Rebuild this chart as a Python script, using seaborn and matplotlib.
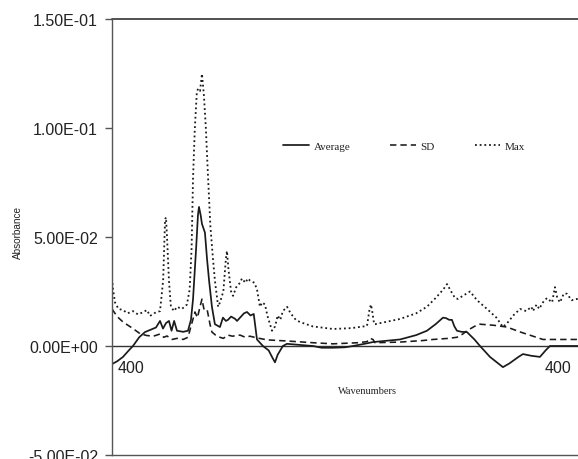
import numpy as np
import pandas as pd
import matplotlib
matplotlib.use("Agg")
import matplotlib.pyplot as plt
import seaborn as sns

# ---- data ----
avg_wn = [4000, 3960, 3915, 3870, 3838, 3790, 3745, 3700, 3660, 3629, 3606, 3583, 3560, 3540,
          3520, 3498, 3450, 3413, 3390, 3374, 3350, 3336, 3328, 3315, 3305, 3282, 3266, 3250,
          3228, 3205, 3166, 3143, 3120, 3104, 3080, 3050, 3034, 3011, 2980, 2957, 2930, 2905,
          2880, 2834, 2790, 2764, 2741, 2720, 2680, 2648, 2550, 2447, 2380, 2293, 2200, 2138,
          2050, 1984, 1775, 1650, 1567, 1500, 1443, 1420, 1395, 1374, 1355, 1335, 1300, 1258,
          1200, 1157, 1080, 980, 930, 860, 825, 760, 694, 650, 617, 400]
avg_val = [-0.0083, -0.007, -0.005, -0.002, 0.0, 0.004, 0.0064, 0.0075, 0.0085, 0.0115, 0.008,
           0.0105, 0.0115, 0.007, 0.0115, 0.007, 0.0065, 0.007, 0.012, 0.0215, 0.045, 0.060,
           0.0638, 0.060, 0.056, 0.052, 0.040, 0.030, 0.018, 0.010, 0.0087, 0.013, 0.0115,
           0.012, 0.0135, 0.0125, 0.0115, 0.013, 0.015, 0.0156, 0.014, 0.0147, 0.003, 0.0,
           -0.002, -0.005, -0.0075, -0.004, 0.0, 0.001, 0.0005, 0.0, -0.0008, -0.0008,
           -0.0006, 0.0, 0.001, 0.0018, 0.003, 0.005, 0.007, 0.010, 0.013, 0.0128, 0.012,
           0.012, 0.009, 0.007, 0.0065, 0.0064, 0.003, 0.0, -0.005, -0.0097, -0.008, -0.005,
           -0.0037, -0.0045, -0.005, -0.002, 0.0, 0.0]

sd_wn = [4000, 3960, 3915, 3838, 3780, 3730, 3680, 3629, 3600, 3575, 3536, 3498, 3450, 3413,
         3390, 3359, 3340, 3320, 3305, 3290, 3266, 3243, 3228, 3200, 3166, 3140, 3104, 3070,
         3011, 2970, 2934, 2880, 2800, 2648, 2447, 2293, 2100, 2030, 2007, 1984, 1968, 1775,
         1600, 1520, 1400, 1335, 1290, 1258, 1200, 1157, 1050, 949, 850, 671, 550, 400]
sd_val = [0.017, 0.0135, 0.011, 0.008, 0.0055, 0.0048, 0.0045, 0.0055, 0.004, 0.0046, 0.003,
          0.0035, 0.003, 0.004, 0.009, 0.0156, 0.013, 0.018, 0.0215, 0.017, 0.017, 0.010,
          0.0064, 0.005, 0.004, 0.0035, 0.005, 0.0045, 0.005, 0.004, 0.0045, 0.0037, 0.0028,
          0.0023, 0.0015, 0.001, 0.0015, 0.002, 0.0035, 0.003, 0.0015, 0.0018, 0.0025, 0.003,
          0.0035, 0.004, 0.0055, 0.007, 0.009, 0.010, 0.0095, 0.0087, 0.0065, 0.003, 0.003,
          0.003]

max_wn = [4000, 3992, 3977, 3950, 3915, 3880, 3838, 3800, 3760, 3730, 3706, 3660, 3629, 3605,
          3590, 3583, 3575, 3560, 3545, 3520, 3498, 3460, 3421, 3400, 3385, 3374, 3360, 3345,
          3336, 3320, 3305, 3290, 3275, 3260, 3240, 3220, 3205, 3180, 3166, 3140, 3120, 3112,
          3100, 3080, 3065, 3040, 3011, 2996, 2970, 2950, 2934, 2900, 2880, 2857, 2840, 2818,
          2800, 2764, 2740, 2720, 2700, 2680, 2648, 2620, 2580, 2548, 2450, 2293, 2150, 2030,
          2010, 1999, 1990, 1975, 1968, 1775, 1650, 1567, 1500, 1440, 1412, 1380, 1350, 1327,
          1290, 1234, 1180, 1103, 1030, 980, 940, 900, 848, 800, 760, 748, 720, 700, 671, 640,
          600, 578, 560, 539, 510, 485, 450, 408, 400]
max_val = [0.031, 0.026, 0.020, 0.017, 0.0165, 0.015, 0.016, 0.0145, 0.0155, 0.0165, 0.0138,
           0.0155, 0.016, 0.030, 0.058, 0.059, 0.050, 0.030, 0.018, 0.016, 0.018, 0.017, 0.019,
           0.026, 0.045, 0.077, 0.100, 0.116, 0.118, 0.117, 0.1248, 0.115, 0.100, 0.080, 0.055,
           0.040, 0.030, 0.018, 0.020, 0.025, 0.040, 0.0436, 0.035, 0.025, 0.023, 0.027, 0.029,
           0.031, 0.029, 0.031, 0.030, 0.029, 0.026, 0.018, 0.020, 0.019, 0.014, 0.007, 0.009,
           0.014, 0.012, 0.016, 0.018, 0.015, 0.012, 0.011, 0.009, 0.0078, 0.0082, 0.0092,
           0.017, 0.019, 0.016, 0.010, 0.010, 0.0124, 0.015, 0.018, 0.022, 0.026, 0.0284,
           0.025, 0.022, 0.0216, 0.023, 0.025, 0.021, 0.017, 0.013, 0.0087, 0.011, 0.014,
           0.017, 0.016, 0.018, 0.016, 0.019, 0.017, 0.020, 0.022, 0.020, 0.027, 0.022, 0.020,
           0.024, 0.024, 0.021, 0.0216, 0.020]

series_names = ["Average", "SD", "Max"]
y_ticks = [-0.05, 0.0, 0.05, 0.10, 0.15]
y_tick_labels = ["-5.00E-02", "0.00E+00", "5.00E-02", "1.00E-01", "1.50E-01"]
x_end_labels = ["400", "400"]

# ---- figure ----
sns.set_theme(style="white")
plt.rcParams["font.family"] = ["Liberation Sans", "DejaVu Sans"]

fig = plt.figure(figsize=(5.78, 4.60), dpi=100)
ax = fig.add_axes([112 / 578, 4 / 460, 1 - 112 / 578, 436 / 460])

col = "#1a1a1a"
styles = {"Average": "-", "SD": (0, (4, 2.5)), "Max": (0, (1, 1.6))}
widths = {"Average": 1.25, "SD": 1.15, "Max": 1.3}
data = {"Average": (avg_wn, avg_val), "SD": (sd_wn, sd_val), "Max": (max_wn, max_val)}

for name in series_names:
    xs, ys = data[name]
    df = pd.DataFrame({"wn": xs, "abs": ys})
    sns.lineplot(data=df, x="wn", y="abs", ax=ax, color=col, linestyle=styles[name],
                 linewidth=widths[name], label=name, sort=False)

ax.set_xlim(4000, 400)
ax.set_ylim(-0.05, 0.15)

# zero line and top line
ax.axhline(0, color="#333333", linewidth=1.0, zorder=1)
ax.axhline(0.15, color="#333333", linewidth=1.2, clip_on=False, zorder=1)

for s in ["right", "top"]:
    ax.spines[s].set_visible(False)
ax.spines["left"].set_color("#555555")
ax.spines["left"].set_linewidth(1.0)
ax.spines["bottom"].set_color("#555555")
ax.spines["bottom"].set_linewidth(1.0)

ax.set_yticks(y_ticks)
ax.set_yticklabels(y_tick_labels, fontsize=11.5,
                   family=["Liberation Sans Narrow", "Liberation Sans"])
ax.tick_params(axis="y", direction="out", length=5, width=1, color="#555555", pad=5,
               left=True)
for t in ax.get_yticklabels():
    t.set_color("#222222")
ax.set_xticks([])
ax.set_xlabel("")
ax.set_ylabel("")

# x end labels
ax.text(0.012, -0.0065, x_end_labels[0], transform=ax.get_yaxis_transform(), fontsize=11.5,
        family=["Liberation Sans Narrow", "Liberation Sans"], ha="left", va="top", color="#222222")
ax.text(0.985, -0.0065, x_end_labels[1], transform=ax.get_yaxis_transform(), fontsize=11.5,
        family=["Liberation Sans Narrow", "Liberation Sans"], ha="right", va="top", color="#222222")

ax.text(0.548, -0.0205, "Wavenumbers", transform=ax.get_yaxis_transform(), fontsize=7.5,
        family=["Liberation Serif"], ha="center", va="center", color="#222222")

fig.text(18 / 578, 1 - 233 / 460, "Absorbance", rotation=90, fontsize=7.2,
         family=["Liberation Sans Narrow", "Liberation Sans"], ha="center", va="center",
         color="#222222")

leg = ax.legend(loc="center", bbox_to_anchor=(0.627, 0.709), ncol=3, frameon=False,
                handlelength=2.3, handletextpad=0.4, columnspacing=3.6,
                prop={"family": "Liberation Serif", "size": 8})
for t in leg.get_texts():
    t.set_color("#222222")

fig.savefig("out.png", dpi=100, facecolor="white")
